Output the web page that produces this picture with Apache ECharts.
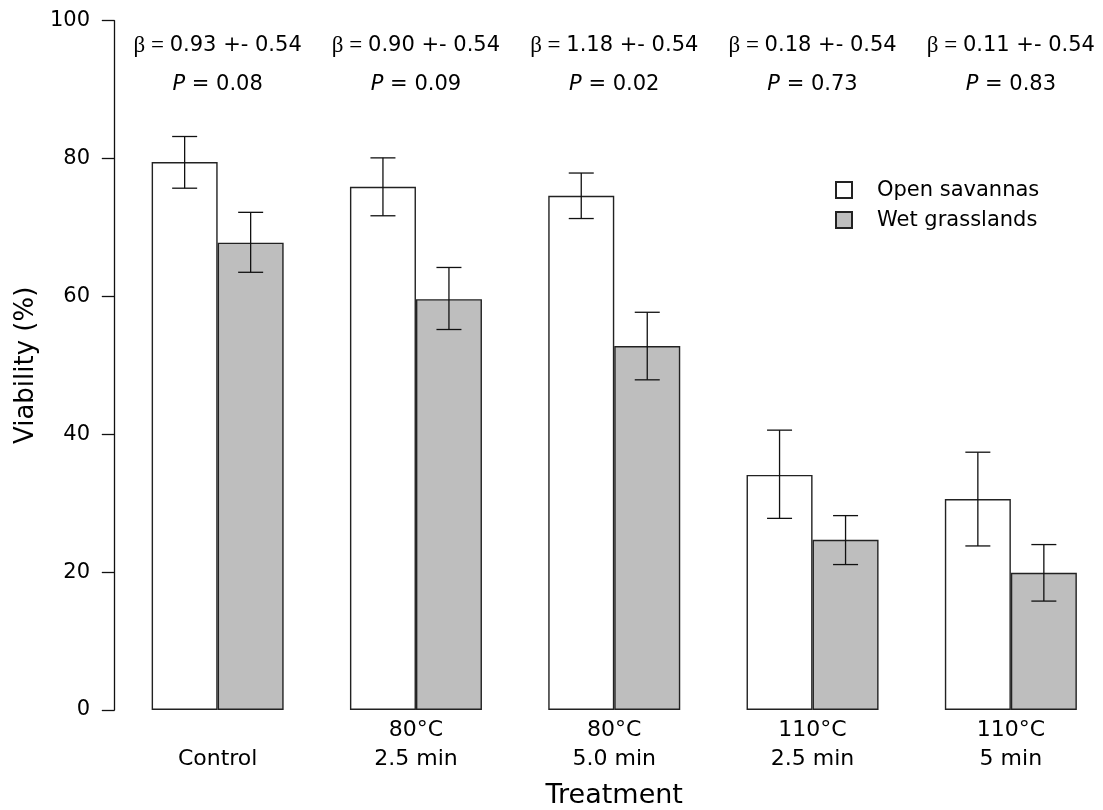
<!DOCTYPE html>
<html>
<head>
<meta charset="utf-8">
<title>Viability by treatment</title>
<script src="https://cdn.jsdelivr.net/npm/echarts@6/dist/echarts.min.js"></script>
<style>
  html, body { margin: 0; padding: 0; background: #fff; }
  #chart { width: 1103px; height: 810px; }
</style>
</head>
<body>
<div id="chart"></div>
<script>
// Treatment groups (x axis tick labels)
const categories = ['Control', '80°C\n2.5 min', '80°C\n5.0 min', '110°C\n2.5 min', '110°C\n5 min'];

// Mean viability (%) and error-bar limits per habitat
const openSavannas    = [79.5, 75.9, 74.6, 34.1, 30.6];
const openLow         = [75.7, 71.7, 71.3, 27.8, 23.8];
const openHigh        = [83.2, 80.1, 77.9, 40.6, 37.4];

const wetGrasslands   = [67.8, 59.6, 52.8, 24.7, 19.9];
const wetLow          = [63.5, 55.2, 47.9, 21.1, 15.8];
const wetHigh         = [72.2, 64.2, 57.7, 28.2, 24.0];

// Model estimates shown above each group
const betaText = ['0.93 +- 0.54', '0.90 +- 0.54', '1.18 +- 0.54', '0.18 +- 0.54', '0.11 +- 0.54'];
const pText    = ['0.08', '0.09', '0.02', '0.73', '0.83'];

const yTicks = { min: 0, max: 100, interval: 20 };

const BAR_W = 66;
const CAP_W = 25;
const SANS = 'DejaVu Sans';
const ANNOT_Y = 93.55; // vertical anchor for the two-line estimate text

const chart = echarts.init(document.getElementById('chart'), null, { renderer: 'canvas' });

function errorBarSeries(name, low, high, dx) {
  return {
    type: 'custom',
    name: name + ' error',
    z: 5,
    silent: true,
    data: low.map((v, i) => [i, v, high[i]]),
    renderItem: function (params, api) {
      const i = api.value(0);
      const pLo = api.coord([i, api.value(1)]);
      const pHi = api.coord([i, api.value(2)]);
      const x = pLo[0] + dx;
      const style = { stroke: '#111', lineWidth: 1.3 };
      return {
        type: 'group',
        children: [
          { type: 'line', shape: { x1: x, y1: pLo[1], x2: x, y2: pHi[1] }, style },
          { type: 'line', shape: { x1: x - CAP_W / 2, y1: pLo[1], x2: x + CAP_W / 2, y2: pLo[1] }, style },
          { type: 'line', shape: { x1: x - CAP_W / 2, y1: pHi[1], x2: x + CAP_W / 2, y2: pHi[1] }, style }
        ]
      };
    }
  };
}

const richBase = { fill: '#000', lineHeight: 39 };

// Two-line estimate text (beta and P) centred over each treatment group
const estimateSeries = {
  type: 'custom',
  name: 'estimates',
  silent: true,
  z: 6,
  data: categories.map((c, i) => [i, ANNOT_Y]),
  renderItem: function (params, api) {
    const i = api.value(0);
    const p = api.coord([i, api.value(1)]);
    return {
      type: 'text',
      x: p[0],
      y: p[1],
      style: {
        text: '{b|β = }{t|' + betaText[i] + '}\n{i|P}{t| = ' + pText[i] + '}',
        align: 'center',
        verticalAlign: 'middle',
        fill: '#000',
        rich: {
          b: Object.assign({ fontFamily: 'Liberation Serif', fontSize: 23 }, richBase),
          t: Object.assign({ fontFamily: SANS, fontSize: 21 }, richBase),
          i: Object.assign({ fontFamily: SANS, fontSize: 21, fontStyle: 'italic' }, richBase)
        }
      }
    };
  }
};

const option = {
  backgroundColor: '#fff',
  animation: false,
  grid: {
    left: 118.5, top: 20.7, width: 991.5, height: 689.3,
    containLabel: false,
    outerBoundsMode: 'none'
  },
  legend: {
    orient: 'vertical',
    left: 835,
    top: 179.6,
    padding: 0,
    itemWidth: 16,
    itemHeight: 16,
    itemGap: 9,
    icon: 'rect',
    data: ['Open savannas', 'Wet grasslands'],
    textStyle: { fontFamily: SANS, fontSize: 21, color: '#000', padding: [0, 0, 0, 20] }
  },
  xAxis: {
    type: 'category',
    data: categories,
    name: 'Treatment',
    nameLocation: 'middle',
    nameGap: 72,
    nameTextStyle: { fontFamily: SANS, fontSize: 27, color: '#000' },
    axisLine: { show: false },
    axisTick: { show: false },
    splitLine: { show: false },
    axisLabel: {
      margin: 6,
      interval: 0,
      fontFamily: SANS,
      fontSize: 22,
      lineHeight: 29,
      color: '#000',
      formatter: v => (v.indexOf('\n') >= 0 ? v : '\n' + v)
    }
  },
  yAxis: {
    type: 'value',
    min: yTicks.min,
    max: yTicks.max,
    interval: yTicks.interval,
    offset: 4,
    name: 'Viability (%)',
    nameLocation: 'middle',
    nameGap: 72,
    nameRotate: 90,
    nameTextStyle: { fontFamily: SANS, fontSize: 26, color: '#000' },
    axisLine: { show: true, lineStyle: { color: '#111', width: 1.3 } },
    axisTick: { show: true, inside: false, length: 12.7, lineStyle: { color: '#111', width: 1.3 } },
    splitLine: { show: false },
    axisLabel: { margin: 24.5, fontFamily: SANS, fontSize: 21, color: '#000' }
  },
  series: [
    {
      name: 'Open savannas',
      type: 'bar',
      data: openSavannas,
      barWidth: BAR_W,
      barGap: '0%',
      itemStyle: { color: '#ffffff', borderColor: '#222', borderWidth: 1.4 }
    },
    {
      name: 'Wet grasslands',
      type: 'bar',
      data: wetGrasslands,
      barWidth: BAR_W,
      barGap: '0%',
      itemStyle: { color: '#bebebe', borderColor: '#222', borderWidth: 1.4 }
    },
    errorBarSeries('Open savannas', openLow, openHigh, -BAR_W / 2),
    errorBarSeries('Wet grasslands', wetLow, wetHigh, BAR_W / 2),
    estimateSeries
  ]
};

chart.setOption(option);
</script>
</body>
</html>
